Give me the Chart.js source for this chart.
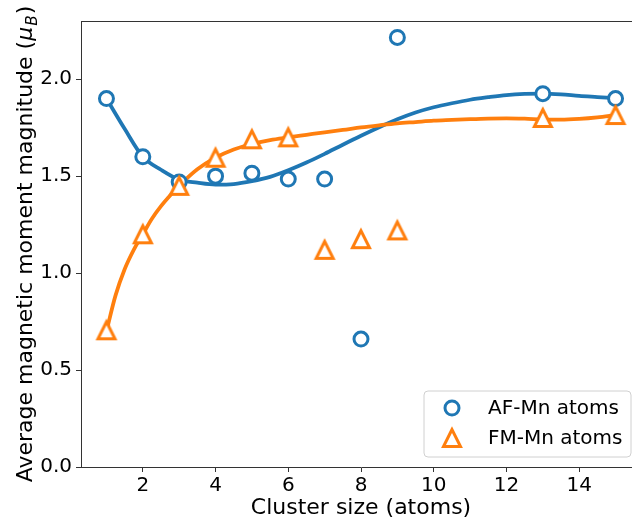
<!DOCTYPE html>
<html>
<head>
<meta charset="utf-8">
<script src="https://cdn.jsdelivr.net/npm/chart.js@4/dist/chart.umd.min.js"></script>
<style>
html,body{margin:0;padding:0;background:#fff;overflow:hidden;}
#wrap{position:absolute;left:0;top:0;width:660px;height:519px;}
</style>
</head>
<body>
<div id="wrap"><canvas id="c" width="660" height="519"></canvas></div>
<script>
// ---- data ----
const clusterSize = [1, 2, 3, 4, 5, 6, 7, 8, 9, 13, 15];
const afMoments   = [1.90, 1.60, 1.47, 1.50, 1.515, 1.485, 1.485, 0.66, 2.215, 1.925, 1.90];
const fmMoments   = [0.705, 1.20, 1.45, 1.595, 1.69, 1.70, 1.12, 1.175, 1.22, 1.80, 1.815];

const afFitX = [1,1.5,2,2.5,3,3.5,4,4.5,5,5.5,6,6.5,7,7.5,8,8.5,9,9.5,10,10.5,11,11.5,12,12.5,13,13.5,14,14.5,15];
const afFitY = [1.90,1.744,1.60,1.533,1.482,1.466,1.456,1.459,1.474,1.496,1.53,1.57,1.615,1.662,1.708,1.752,1.793,1.828,1.855,1.876,1.894,1.907,1.918,1.924,1.926,1.922,1.914,1.908,1.902];
const fmFitX = [1,1.25,1.5,1.75,2,2.25,2.5,2.75,3,3.5,4,4.5,5,5.5,6,6.5,7,7.5,8,8.5,9,9.5,10,10.5,11,11.5,12,12.5,13,13.5,14,14.5,15];
const fmFitY = [0.70,0.885,1.02,1.12,1.20,1.28,1.345,1.40,1.45,1.535,1.595,1.637,1.666,1.686,1.70,1.713,1.726,1.738,1.751,1.762,1.772,1.779,1.786,1.79,1.794,1.797,1.798,1.796,1.792,1.791,1.795,1.803,1.815];

const xTicks = [2, 4, 6, 8, 10, 12, 14];
const yTicks = [0.0, 0.5, 1.0, 1.5, 2.0];
const seriesLabels = ['AF-Mn atoms', 'FM-Mn atoms'];
const xTitle = 'Cluster size (atoms)';
const yTitleMain = 'Average magnetic moment magnitude (';

// ---- styling ----
const BLUE = '#1f77b4', ORANGE = '#ff7f0e';
const FONT = '"DejaVu Sans", sans-serif';
Chart.defaults.font.family = FONT;
Chart.defaults.color = '#000';

function makeTriangle(){
  const s = 28, c = s/2, h = 8.5;
  const cv = document.createElement('canvas');
  cv.width = s; cv.height = s;
  const g = cv.getContext('2d');
  g.beginPath();
  g.moveTo(c, c - h); g.lineTo(c - h, c + h); g.lineTo(c + h, c + h); g.closePath();
  g.fillStyle = '#fff'; g.fill();
  g.lineWidth = 3; g.lineJoin = 'miter'; g.strokeStyle = ORANGE; g.stroke();
  return cv;
}
const triImg = makeTriangle();

const pts = (xs, ys) => xs.map((x, i) => ({x: x, y: ys[i]}));

const framePlugin = {
  id: 'frame',
  afterDraw(chart){
    const ctx = chart.ctx, a = chart.chartArea;
    ctx.save();
    // top spine
    ctx.strokeStyle = '#333'; ctx.lineWidth = 1;
    ctx.beginPath(); ctx.moveTo(a.left, a.top + 0.5); ctx.lineTo(a.right, a.top + 0.5); ctx.stroke();

    // y title with mathtext-like subscript
    const fs = 22;
    ctx.font = fs + 'px ' + FONT;
    const w1 = ctx.measureText(yTitleMain).width;
    ctx.font = 'italic ' + fs + 'px ' + FONT;
    const w2 = ctx.measureText('μ').width;
    ctx.font = 'italic ' + (fs*0.7) + 'px ' + FONT;
    const w3 = ctx.measureText('B').width;
    ctx.font = fs + 'px ' + FONT;
    const w4 = ctx.measureText(')').width;
    const total = w1 + w2 + w3 + w4 + 2;
    ctx.translate(24, (a.top + a.bottom) / 2);
    ctx.rotate(-Math.PI / 2);
    ctx.fillStyle = '#000';
    ctx.textBaseline = 'alphabetic';
    const base = fs * 0.36;
    let x = -total / 2;
    ctx.font = fs + 'px ' + FONT; ctx.fillText(yTitleMain, x, base); x += w1;
    ctx.font = 'italic ' + fs + 'px ' + FONT; ctx.fillText('μ', x, base); x += w2 + 1;
    ctx.font = 'italic ' + (fs*0.7) + 'px ' + FONT; ctx.fillText('B', x, base + fs*0.22); x += w3 + 1;
    ctx.font = fs + 'px ' + FONT; ctx.fillText(')', x, base);
    ctx.restore();

    // legend
    ctx.save();
    const bw = 207, bh = 66;
    const bx = a.right - 10 - bw, by = a.bottom - 10 - bh;
    const r = 4;
    ctx.beginPath();
    ctx.moveTo(bx + r, by); ctx.lineTo(bx + bw - r, by); ctx.quadraticCurveTo(bx + bw, by, bx + bw, by + r);
    ctx.lineTo(bx + bw, by + bh - r); ctx.quadraticCurveTo(bx + bw, by + bh, bx + bw - r, by + bh);
    ctx.lineTo(bx + r, by + bh); ctx.quadraticCurveTo(bx, by + bh, bx, by + bh - r);
    ctx.lineTo(bx, by + r); ctx.quadraticCurveTo(bx, by, bx + r, by); ctx.closePath();
    ctx.fillStyle = 'rgba(255,255,255,0.8)'; ctx.fill();
    ctx.strokeStyle = '#d0d0d0'; ctx.lineWidth = 1; ctx.stroke();
    const mx = bx + 28, r1 = by + 17, r2 = by + 47;
    ctx.beginPath(); ctx.arc(mx, r1, 7, 0, Math.PI * 2);
    ctx.fillStyle = '#fff'; ctx.fill(); ctx.lineWidth = 3; ctx.strokeStyle = BLUE; ctx.stroke();
    ctx.drawImage(triImg, mx - triImg.width / 2, r2 - triImg.height / 2);
    ctx.fillStyle = '#000'; ctx.font = '20px ' + FONT; ctx.textBaseline = 'middle';
    ctx.fillText(seriesLabels[0], bx + 64, r1 + 1);
    ctx.fillText(seriesLabels[1], bx + 64, r2 + 1);
    ctx.restore();
  }
};

new Chart(document.getElementById('c'), {
  type: 'scatter',
  data: {
    datasets: [
      { label: seriesLabels[1], data: pts(clusterSize, fmMoments), pointStyle: triImg,
        pointRadius: 10, showLine: false, order: 0 },
      { label: seriesLabels[0], data: pts(clusterSize, afMoments), pointStyle: 'circle',
        pointRadius: 7, borderWidth: 3, borderColor: BLUE, backgroundColor: '#fff', showLine: false, order: 1 },
      { label: seriesLabels[1] + ' fit', data: pts(fmFitX, fmFitY), showLine: true, pointRadius: 0,
        borderColor: ORANGE, borderWidth: 3.75, cubicInterpolationMode: 'monotone', order: 2 },
      { label: seriesLabels[0] + ' fit', data: pts(afFitX, afFitY), showLine: true, pointRadius: 0,
        borderColor: BLUE, borderWidth: 3.75, cubicInterpolationMode: 'monotone', order: 3 }
    ]
  },
  options: {
    responsive: false,
    animation: false,
    events: [],
    layout: { padding: { left: 0, right: 19, top: 21, bottom: 0 } },
    plugins: { legend: { display: false }, tooltip: { enabled: false } },
    scales: {
      x: {
        type: 'linear', min: 0.3, max: 15.7,
        afterBuildTicks: s => { s.ticks = xTicks.map(v => ({value: v})); },
        afterFit: s => { s.height = 52; },
        grid: { drawOnChartArea: false, drawTicks: true, tickLength: 5, color: '#333' },
        border: { display: true, color: '#333', width: 1 },
        ticks: { font: { size: 20 }, color: '#000', padding: 2, maxRotation: 0, callback: v => String(v) },
        title: { display: true, text: xTitle, font: { size: 22 }, color: '#000', padding: { top: 0, bottom: -2 } }
      },
      y: {
        type: 'linear', min: 0, max: 2.3,
        afterBuildTicks: s => { s.ticks = yTicks.map(v => ({value: v})); },
        afterFit: s => { s.width = 81; },
        grid: { drawOnChartArea: false, drawTicks: true, tickLength: 5, color: '#333' },
        border: { display: true, color: '#333', width: 1 },
        ticks: { font: { size: 20 }, color: '#000', padding: 4, callback: v => v.toFixed(1) }
      }
    }
  },
  plugins: [framePlugin]
});
</script>
</body>
</html>
